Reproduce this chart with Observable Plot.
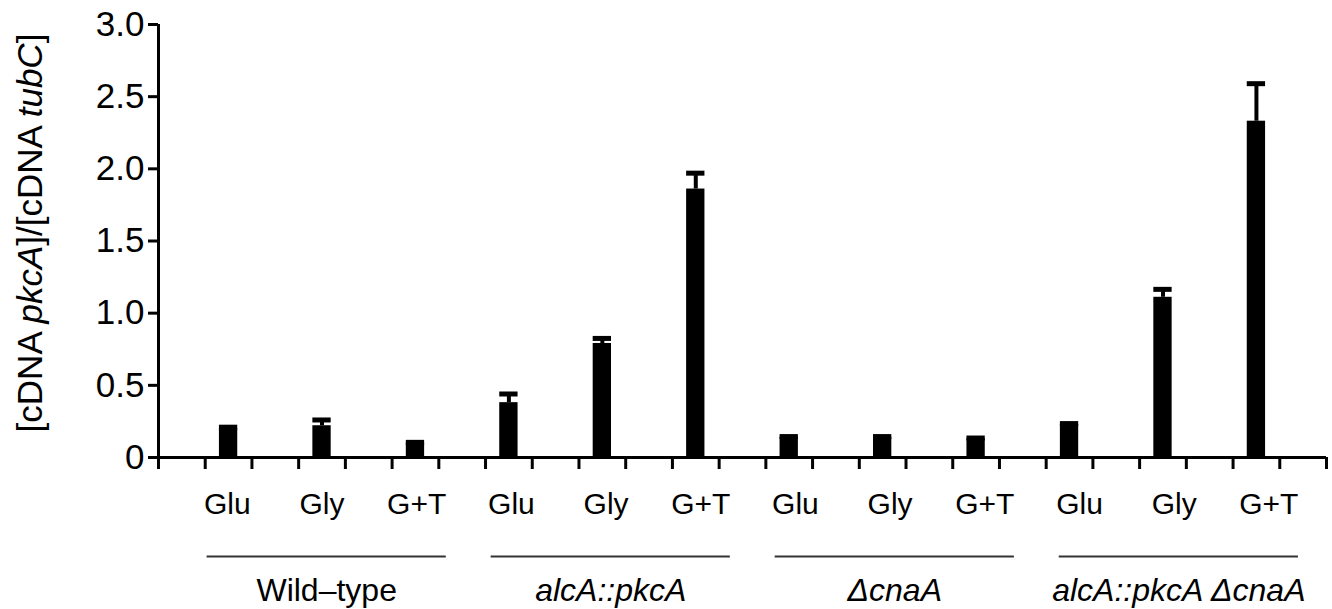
<!DOCTYPE html>
<html><head><meta charset="utf-8">
<script src="https://cdn.jsdelivr.net/npm/d3@7"></script>
<script src="https://cdn.jsdelivr.net/npm/@observablehq/plot@0.6"></script>
<style>html,body{margin:0;padding:0;background:#fff;} svg{display:block}</style>
</head><body><div id="chart"></div>
<script>
// ---- data ----
const strains = ["Wild\u2013type", "alcA::pkcA", "\u0394cnaA", "alcA::pkcA \u0394cnaA"];
const strainItalic = [false, true, true, true];
const conditions = ["Glu", "Gly", "G+T"];
const means = [0.20, 0.22, 0.10, 0.38, 0.79, 1.86, 0.14, 0.14, 0.13, 0.23, 1.11, 2.33];
const sems  = [0.01, 0.04, 0.005, 0.06, 0.035, 0.11, 0.005, 0.005, 0.005, 0.005, 0.055, 0.26];
const yTicks = [0, 0.5, 1.0, 1.5, 2.0, 2.5, 3.0];

// ---- layout helpers (slot units on a linear x scale) ----
const nSlots = 25;             // gap slot + bar slot per bar, plus trailing gap
const BW = 0.196;              // bar half width in slots
const slotOf = i => 2 * i + 1.5;
const annX = s => 3.5 + (s - 3.5) * 1.0133;   // annotation row alignment
const LINE_HALF = 2.56;

const rows = means.map((m, i) => ({
  i, strain: strains[Math.floor(i / 3)], cond: conditions[i % 3],
  mean: m, sem: sems[i], slot: slotOf(i)
}));
const groups = strains.map((s, g) => ({
  strain: s, italic: strainItalic[g], c: annX(6 * g + 3.5) + 0.1
}));

const FONT = "Liberation Sans, Arial, Helvetica, sans-serif";

const chart = Plot.plot({
  width: 1332, height: 609,
  marginLeft: 158, marginRight: 6, marginTop: 24, marginBottom: 152,
  style: {fontFamily: FONT, color: "#000", background: "#fff"},
  x: {type: "linear", domain: [0, nSlots]},
  y: {domain: [0, 3]},
  marks: [
    Plot.rectY(rows, {x1: d => d.slot - BW, x2: d => d.slot + BW, y1: 0, y2: "mean", fill: "#000"}),
    Plot.ruleX(rows, {x: "slot", y1: "mean", y2: d => d.mean + d.sem, stroke: "#000", strokeWidth: 4}),
    Plot.ruleY(rows, {y: d => d.mean + d.sem, x1: d => d.slot - BW, x2: d => d.slot + BW, stroke: "#000", strokeWidth: 5}),
    Plot.ruleY([0], {x1: 0, x2: nSlots, stroke: "#000", strokeWidth: 3}),
    Plot.ruleX([0], {y1: 0, y2: 3, stroke: "#000", strokeWidth: 3}),
    Plot.axisY({ticks: yTicks, tickSize: 10, tickPadding: 4, strokeWidth: 3,
      tickFormat: d => d === 0 ? "0" : d.toFixed(1), fontSize: 35, label: null}),
    Plot.axisX({ticks: d3.range(0, nSlots + 1), tickSize: 12, strokeWidth: 3,
      tickFormat: () => "", label: null}),
    Plot.text(rows, {x: d => annX(d.slot), y: 0, text: "cond", dy: 56, lineAnchor: "bottom",
      textAnchor: "middle", fontSize: 30, fill: "#000"}),
    Plot.ruleY(groups, {y: 0, x1: d => d.c - LINE_HALF, x2: d => d.c + LINE_HALF, dy: 99,
      stroke: "#333", strokeWidth: 2}),
    Plot.text(groups.filter(d => !d.italic), {x: "c", y: 0, text: "strain", dy: 143, lineAnchor: "bottom",
      textAnchor: "middle", fontSize: 32, fill: "#000"}),
    Plot.text(groups.filter(d => d.italic), {x: "c", y: 0, text: "strain", dy: 143, lineAnchor: "bottom",
      textAnchor: "middle", fontSize: 32, fontStyle: "italic", fill: "#000"})
  ]
});

// y-axis title with italic gene names
const svg = d3.select(chart);
const t = svg.append("text")
  .attr("transform", "translate(42,233) rotate(-90)")
  .attr("text-anchor", "middle")
  .attr("font-size", 35)
  .attr("font-family", FONT)
  .attr("fill", "#000");
t.append("tspan").text("[cDNA ");
t.append("tspan").attr("font-style", "italic").text("pkcA");
t.append("tspan").text("]/[cDNA ");
t.append("tspan").attr("font-style", "italic").text("tubC");
t.append("tspan").text("]");

document.getElementById("chart").appendChild(chart);
</script>
</body></html>
